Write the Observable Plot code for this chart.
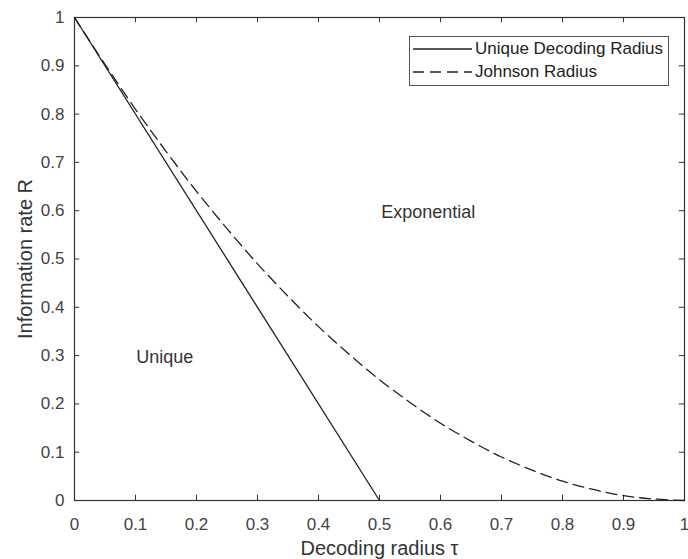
<!DOCTYPE html>
<html>
<head>
<meta charset="utf-8">
<script src="https://cdn.jsdelivr.net/npm/d3@7"></script>
<script src="https://cdn.jsdelivr.net/npm/@observablehq/plot@0.6"></script>
<style>
  html, body { margin: 0; padding: 0; background: #fff; }
  #wrap { position: relative; width: 688px; height: 559px; overflow: hidden; font-family: "Liberation Sans", Arial, sans-serif; }
  #legend { position: absolute; left: 409px; top: 36px; width: 260px; height: 50px; border: 1px solid #555; background: #fff; box-sizing: border-box; font-size: 17px; color: #222; }
  .row { position: absolute; left: 3px; height: 16px; display: flex; align-items: center; white-space: nowrap; }
  .row svg { margin-right: 3px; }
</style>
</head>
<body>
<div id="wrap"></div>
<script>
// Unique decoding radius (solid line)
const uniqueTau = [0, 0.5];
const uniqueR = [1, 0];
// Johnson radius (dashed curve)
const johnsonTau = [0, 0.05, 0.1, 0.15, 0.2, 0.25, 0.3, 0.35, 0.4, 0.45, 0.5, 0.55, 0.6, 0.65, 0.7, 0.75, 0.8, 0.85, 0.9, 0.95, 1];
const johnsonR = [1, 0.903, 0.81, 0.723, 0.64, 0.563, 0.49, 0.423, 0.36, 0.303, 0.25, 0.203, 0.16, 0.123, 0.09, 0.063, 0.04, 0.023, 0.01, 0.003, 0];
// Tick values
const xTicks = [0, 0.1, 0.2, 0.3, 0.4, 0.5, 0.6, 0.7, 0.8, 0.9, 1];
const yTicks = [0, 0.1, 0.2, 0.3, 0.4, 0.5, 0.6, 0.7, 0.8, 0.9, 1];
const xTickLabels = ["0", "0.1", "0.2", "0.3", "0.4", "0.5", "0.6", "0.7", "0.8", "0.9", "1"];
const yTickLabels = ["0", "0.1", "0.2", "0.3", "0.4", "0.5", "0.6", "0.7", "0.8", "0.9", "1"];
// Region annotations
const regionNames = ["Exponential", "Unique"];
const regionTau = [0.58, 0.148];
const regionR = [0.596, 0.296];
// Legend
const legendNames = ["Unique Decoding Radius", "Johnson Radius"];

const uniqueData = uniqueTau.map((t, i) => ({tau: t, R: uniqueR[i]}));
const johnsonData = johnsonTau.map((t, i) => ({tau: t, R: johnsonR[i]}));
const regionData = regionNames.map((n, i) => ({name: n, tau: regionTau[i], R: regionR[i]}));

const tickLenX = 0.0085; // in data units along x
const tickLenY = 0.011;  // in data units along y

const chart = Plot.plot({
  width: 688,
  height: 559,
  marginLeft: 74,
  marginRight: 4,
  marginTop: 17,
  marginBottom: 59,
  style: {fontFamily: "Liberation Sans, Arial, sans-serif", background: "#fff"},
  x: {domain: [0, 1]},
  y: {domain: [0, 1]},
  marks: [
    Plot.axisX(xTicks, {tickSize: 0, tickPadding: 17, fontSize: 17, fill: "#444",
      tickFormat: (d, i) => xTickLabels[i],
      label: "Decoding radius τ", labelAnchor: "center", labelArrow: "none", labelOffset: 54}),
    Plot.axisY(yTicks, {tickSize: 0, tickPadding: 10, fontSize: 17, fill: "#444",
      tickFormat: (d, i) => yTickLabels[i],
      label: "Information rate R", labelAnchor: "center", labelArrow: "none", labelOffset: 57}),
    // inward ticks on all four sides
    Plot.ruleX(xTicks, {x: d => d, y1: 0, y2: tickLenY, stroke: "#333"}),
    Plot.ruleX(xTicks, {x: d => d, y1: 1 - tickLenY, y2: 1, stroke: "#333"}),
    Plot.ruleY(yTicks, {y: d => d, x1: 0, x2: tickLenX, stroke: "#333"}),
    Plot.ruleY(yTicks, {y: d => d, x1: 1 - tickLenX, x2: 1, stroke: "#333"}),
    Plot.frame({stroke: "#333", strokeWidth: 1.2}),
    Plot.line(uniqueData, {x: "tau", y: "R", stroke: "#222", strokeWidth: 1.3}),
    Plot.line(johnsonData, {x: "tau", y: "R", stroke: "#222", strokeWidth: 1.3, strokeDasharray: "11,6", curve: "catmull-rom"}),
    Plot.text(regionData, {x: "tau", y: "R", text: "name", fontSize: 18, fill: "#333"})
  ]
});

// style axis label text sizes
chart.querySelectorAll("g[aria-label='x-axis label'] text, g[aria-label='y-axis label'] text").forEach(t => {
  t.setAttribute("font-size", 20);
  t.setAttribute("fill", "#333");
});

const wrap = document.getElementById("wrap");
wrap.appendChild(chart);

const legend = document.createElement("div");
legend.id = "legend";
const dashes = [null, "11,6"];
legendNames.forEach((name, i) => {
  const row = document.createElement("div");
  row.className = "row";
  row.style.top = (4 + i * 23) + "px";
  row.innerHTML = `<svg width="59" height="4"><line x1="0" y1="2" x2="59" y2="2" stroke="#222" stroke-width="1.3" ${dashes[i] ? `stroke-dasharray="${dashes[i]}"` : ""}/></svg><span>${name}</span>`;
  legend.appendChild(row);
});
wrap.appendChild(legend);
</script>
</body>
</html>
